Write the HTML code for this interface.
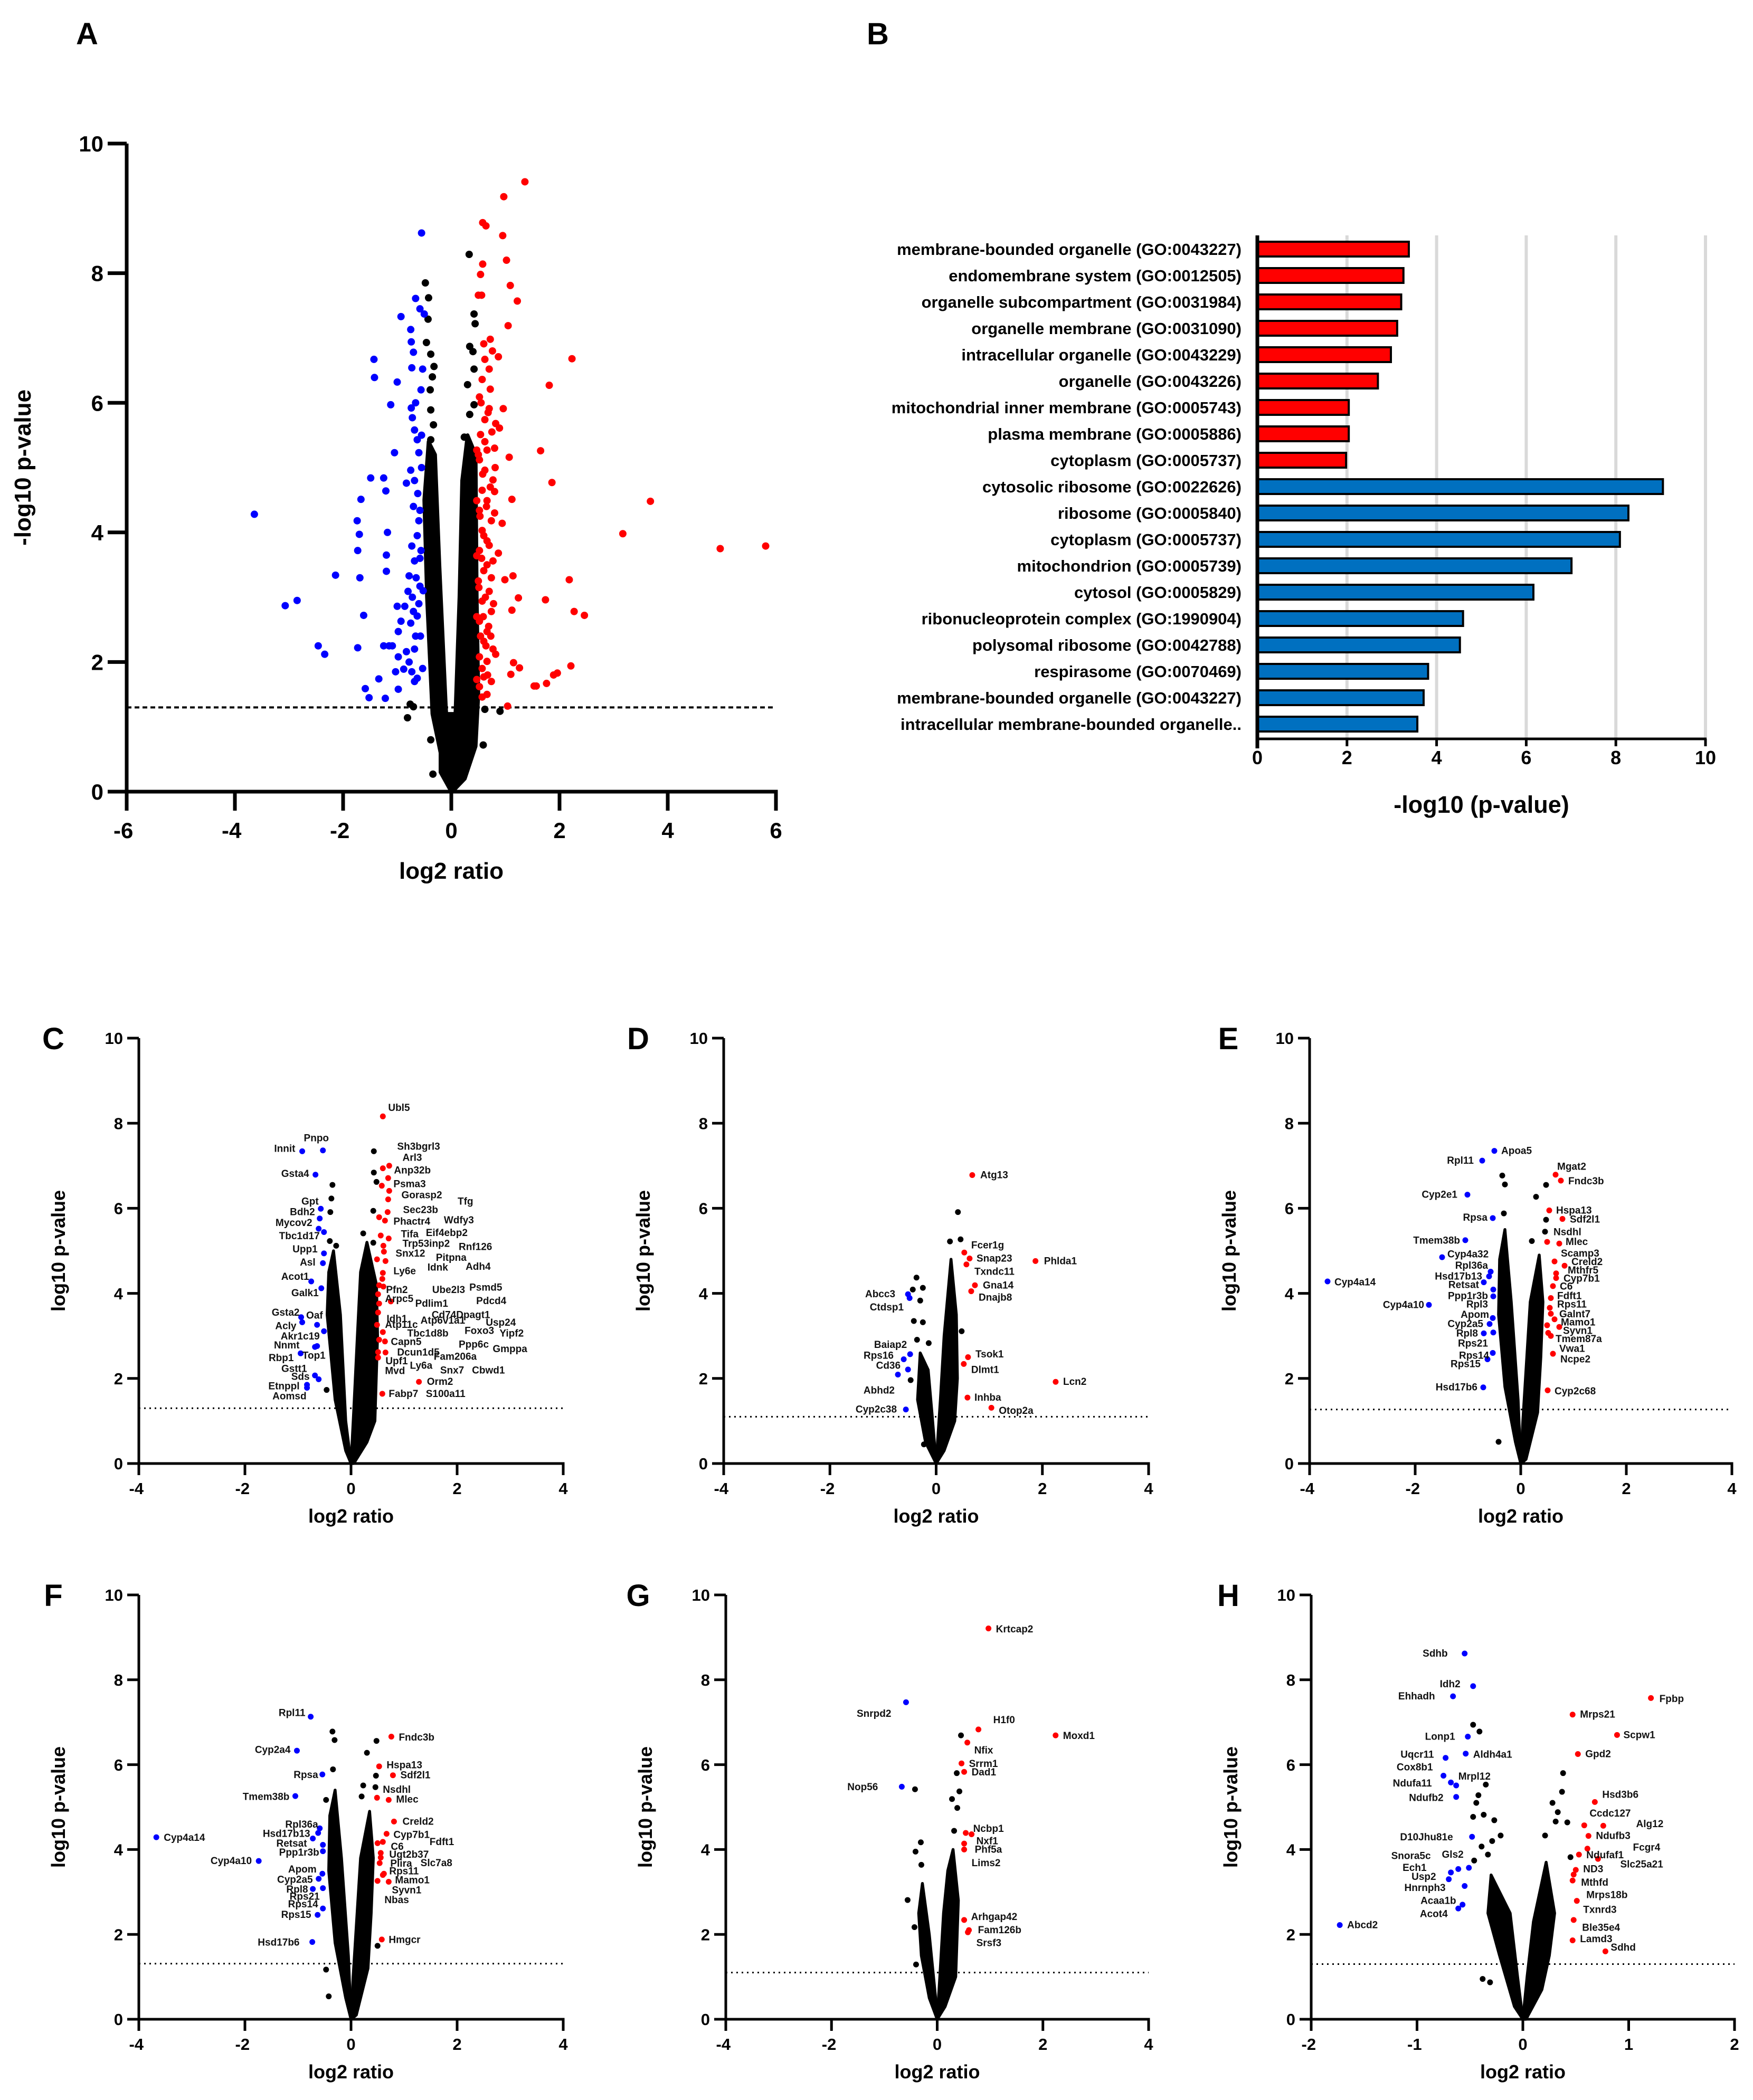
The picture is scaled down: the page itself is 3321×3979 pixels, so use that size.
<!DOCTYPE html>
<html><head><meta charset="utf-8"><style>
html,body{margin:0;padding:0;background:#fff;}
svg{display:block;font-family:"Liberation Sans",Arial,sans-serif;font-weight:bold;}
</style></head><body>
<svg id="fig" xmlns="http://www.w3.org/2000/svg" width="3321" height="3979" viewBox="0 0 3321 3979">
<rect width="3321" height="3979" fill="#fff"/>
</svg>
<script>
// ---------- Panel A data ----------
const aBlueX=[-0.55,-3.64,-3.07,-2.85,-2.46,-2.34,-2.14,-1.73,-1.69,-1.62,-1.59,-1.52,-1.73,-1.70,-1.74,-1.67,-1.49,-1.25,-1.21,-1.43,-1.42,-1.34,-1.22,-1.20,-1.20,-1.18,-1.12,-1.05,-1.0,-0.93,-0.83,-0.73,-0.75,-0.74,-0.70,-0.66,-0.72,-0.74,-0.98,-1.0,-1.09,-1.15,-0.98,-0.93,-0.86,-0.80,-0.78,-0.68,-0.73,-0.63,-0.58,-0.60,-0.68,-0.63,-0.60,-0.56,-0.53,-0.58,-0.50,-0.78,-0.73,-0.68,-0.83,-0.63,-0.66,-0.58,-0.56,-0.75,-0.68,-0.70,-0.88,-1.03,-0.98,-1.25,-0.55,-0.62,-0.70,-0.58,-0.65,-0.52,-0.60,-0.75,-0.57,-0.68,-0.53,-0.63,-0.72,-0.55,-0.66];
const aBlueY=[8.62,4.28,2.87,2.95,2.25,2.12,3.34,2.22,3.30,2.72,1.59,1.45,3.72,3.97,4.18,4.51,4.84,4.84,4.64,6.67,6.39,1.74,1.44,3.65,3.40,4.0,5.97,5.23,6.32,7.33,4.76,6.54,7.13,6.94,6.78,7.61,5.77,5.92,1.58,2.86,2.25,2.25,2.47,2.63,2.86,3.09,3.33,3.56,3.79,3.95,4.34,4.18,5.58,5.43,5.23,6.2,6.52,7.45,7.37,2.0,1.85,1.70,2.16,2.71,2.40,3.17,3.72,4.96,4.80,2.78,1.89,1.85,2.08,2.25,5.0,4.6,4.4,3.6,3.3,3.1,2.9,2.6,2.4,2.2,1.9,1.75,3.0,5.5,6.0];
const aRedX=[1.36,0.97,0.58,0.64,0.95,1.02,0.58,0.54,1.09,0.50,0.56,1.22,1.05,2.23,1.81,1.65,1.86,3.68,3.17,4.97,5.81,2.18,2.27,2.46,1.74,2.21,1.96,1.89,1.76,1.57,1.53,1.26,1.15,1.10,1.04,1.24,1.12,1.14,0.99,1.07,1.12,0.94,0.80,0.81,0.80,0.89,0.82,0.70,0.96,0.87,0.72,0.60,0.76,0.62,0.70,0.57,0.72,0.52,0.62,0.54,0.66,0.52,0.62,0.77,0.57,0.66,0.52,0.74,0.57,0.66,0.52,0.87,0.77,0.60,0.50,0.70,0.57,0.74,0.52,0.66,0.60,0.77,0.52,0.66,0.82,0.60,0.74,0.52,0.66,0.57,0.47,0.47,0.47,0.47,0.47,0.55,0.68,0.75,0.62,0.50,0.58,0.72,0.65,0.53,0.80,0.60,0.70,0.56,0.66,0.74,0.51,0.63,0.78,0.59,0.69,0.54,0.64,0.73,0.57,0.67];
const aRedY=[9.41,9.18,8.78,8.73,8.58,8.20,8.14,7.98,7.81,7.66,7.66,7.57,7.19,6.68,6.27,5.26,4.77,4.48,3.98,3.75,3.79,3.27,2.78,2.72,2.96,1.94,1.83,1.80,1.67,1.63,1.63,1.91,1.99,1.81,1.32,2.99,2.80,3.33,3.27,5.16,4.51,4.14,4.63,5.0,5.30,5.61,5.68,5.91,5.91,6.71,6.98,6.91,6.80,6.67,6.52,6.36,6.21,6.09,5.74,5.51,5.27,5.12,4.96,4.81,4.65,4.49,4.34,4.18,4.03,3.87,3.72,3.68,3.56,3.41,3.25,3.09,2.94,2.78,2.63,2.47,2.32,2.20,2.08,2.01,2.12,1.77,1.70,1.62,1.50,1.46,1.73,2.70,3.64,4.49,5.27,6.0,5.85,5.55,5.4,5.2,4.9,4.7,4.4,4.25,4.3,3.95,3.8,3.6,3.5,3.3,3.15,3.0,2.9,2.7,2.55,2.4,2.25,2.4,1.9,1.8];
const aBlackX=[0.33,-0.48,-0.42,-0.43,0.42,0.44,-0.46,0.34,0.40,-0.38,-0.32,-0.35,0.30,0.42,-0.39,0.42,-0.38,-0.33,0.34,-0.38,0.24,-0.81,-0.76,-0.70,0.90,0.62,-0.38,0.59,-0.34];
const aBlackY=[8.29,7.85,7.62,7.29,7.37,7.22,6.93,6.87,6.79,6.75,6.56,6.40,6.28,6.52,6.20,5.97,5.89,5.66,5.82,5.43,5.47,1.14,1.35,1.31,1.24,1.27,0.80,0.72,0.27];
const aCloudLX=[-0.42,-0.3,-0.22,-0.1,0,-0.15,-0.35,-0.45,-0.5];
const aCloudLY=[5.4,5.2,3.5,1.3,0,0.4,1.2,3.0,4.5];
const aCloudRX=[0.3,0.45,0.47,0.5,0.45,0.25,0.02,0.08,0.15,0.2];
const aCloudRY=[5.5,5.2,3.0,1.5,0.7,0.2,0,1.3,3.0,4.8];
const aCloudMX=[-0.2,0.3,0.2,0,-0.2];
const aCloudMY=[1.2,1.2,0.3,0,0.3];

// ---------- Panel B data ----------
const bTerms=["membrane-bounded organelle (GO:0043227)","endomembrane system (GO:0012505)","organelle subcompartment (GO:0031984)","organelle membrane (GO:0031090)","intracellular organelle (GO:0043229)","organelle (GO:0043226)","mitochondrial inner membrane (GO:0005743)","plasma membrane (GO:0005886)","cytoplasm (GO:0005737)","cytosolic ribosome (GO:0022626)","ribosome (GO:0005840)","cytoplasm (GO:0005737)","mitochondrion (GO:0005739)","cytosol (GO:0005829)","ribonucleoprotein complex (GO:1990904)","polysomal ribosome (GO:0042788)","respirasome (GO:0070469)","membrane-bounded organelle (GO:0043227)","intracellular membrane-bounded organelle.."];
const bValues=[3.38,3.26,3.21,3.12,2.98,2.69,2.04,2.04,1.98,9.05,8.28,8.09,7.01,6.16,4.59,4.52,3.81,3.71,3.57];
const bGroup=["up","up","up","up","up","up","up","up","up","down","down","down","down","down","down","down","down","down","down"];
const bTicks=[0,2,4,6,8,10];

// ---------- Panel C ----------
const cRedX=[0.60,0.60,0.72,0.70,0.58,0.72,0.70,0.69,0.53,0.64,0.56,0.71,0.61,0.62,0.49,0.65,0.60,0.59,0.53,0.61,0.51,0.75,0.53,0.51,0.49,0.60,0.53,0.64,0.51,0.65,0.51,1.28,0.59];
const cRedY=[8.16,6.94,7.0,6.71,6.53,6.41,6.21,5.91,5.79,5.71,5.36,5.29,5.12,4.98,4.8,4.76,4.48,4.34,4.19,4.16,3.98,3.81,3.76,3.55,3.26,3.09,2.91,2.87,2.62,2.61,2.49,1.92,1.64];
const cBlueX=[-0.92,-0.53,-0.67,-0.57,-0.59,-0.61,-0.51,-0.51,-0.53,-0.75,-0.56,-0.94,-0.64,-0.92,-0.51,-0.68,-0.64,-0.95,-0.68,-0.61,-0.83,-0.83];
const cBlueY=[7.34,7.36,6.79,5.99,5.76,5.52,5.44,4.94,4.71,4.28,4.12,3.44,3.26,3.32,3.11,2.74,2.76,2.59,2.07,1.98,1.85,1.78];
const cBlackX=[0.43,0.43,0.48,-0.35,-0.37,-0.39,0.42,0.23,-0.40,-0.28,0.42,-0.46];
const cBlackY=[7.34,6.84,6.62,6.55,6.23,5.91,5.94,5.41,5.23,5.12,5.19,1.73];
const cCloudLX=[-0.33,-0.2,-0.1,0,-0.1,-0.3,-0.45,-0.42];
const cCloudLY=[5.0,3.5,1.0,0,0.3,1.5,3.5,4.5];
const cCloudRX=[0.3,0.48,0.5,0.45,0.3,0.05,0,0.05,0.12,0.18];
const cCloudRY=[5.2,4.2,3.0,1.0,0.5,0,0,1.2,3.0,4.5];
const cLabText=["Ubl5","Sh3bgrl3","Arl3","Anp32b","Psma3","Gorasp2","Tfg","Sec23b","Wdfy3","Phactr4","Tifa","Eif4ebp2","Trp53inp2","Rnf126","Snx12","Pitpna","Idnk","Adh4","Ly6e","Psmd5","Ube2l3","Pfn2","Arpc5","Pdcd4","Pdlim1","Cd74Dpagt1","Idh1","Usp24","Atp6v1a1","Atp11c","Tbc1d8b","Foxo3","Yipf2","Capn5","Ppp6c","Gmppa","Dcun1d5","Fam206a","Upf1","Mvd","Ly6a","Snx7","Cbwd1","Orm2","Fabp7","S100a11",
"Innit","Pnpo","Gsta4","Gpt","Bdh2","Mycov2","Tbc1d17","Upp1","Asl","Acot1","Galk1","Gsta2","Oaf","Acly","Akr1c19","Nnmt","Top1","Rbp1","Gstt1","Sds","Etnppl","Aomsd"];
const cLabX=[0.7,0.87,0.97,0.81,0.80,0.95,2.01,0.98,1.75,0.80,0.94,1.41,0.97,2.03,0.84,1.60,1.44,2.16,0.80,2.23,1.53,0.66,0.64,2.36,1.21,1.52,0.67,2.54,1.31,0.64,1.06,2.14,2.80,0.75,2.03,2.67,0.87,1.56,0.65,0.64,1.11,1.68,2.28,1.43,0.71,1.41,
-1.05,-0.89,-0.79,-0.61,-0.68,-0.73,-0.59,-0.63,-0.67,-0.79,-0.61,-0.97,-0.53,-1.03,-0.59,-0.97,-0.48,-1.08,-0.83,-0.78,-0.97,-0.84];
const cLabY=[8.36,7.45,7.19,6.89,6.57,6.31,6.16,5.96,5.72,5.69,5.39,5.42,5.17,5.09,4.94,4.84,4.61,4.63,4.52,4.14,4.08,4.08,3.87,3.82,3.76,3.49,3.40,3.31,3.36,3.26,3.06,3.12,3.06,2.86,2.80,2.69,2.61,2.51,2.41,2.18,2.30,2.19,2.19,1.92,1.64,1.64,
7.4,7.65,6.81,6.16,5.91,5.66,5.35,5.04,4.73,4.39,4.01,3.55,3.48,3.23,2.99,2.78,2.54,2.48,2.23,2.04,1.82,1.58];
const cLabSide=["R","R","R","R","R","R","R","R","R","R","R","R","R","R","R","R","R","R","R","R","R","R","R","R","R","R","R","R","R","R","R","R","R","R","R","R","R","R","R","R","R","R","R","R","R","R",
"L","R","L","L","L","L","L","L","L","L","L","L","L","L","L","L","L","L","L","L","L","L"];

// ---------- Panel D ----------
const dRedX=[0.68,0.53,0.63,0.57,1.87,0.73,0.66,0.60,0.52,2.25,0.59,1.04];
const dRedY=[6.78,4.96,4.82,4.68,4.76,4.19,4.05,2.50,2.34,1.92,1.55,1.31];
const dBlueX=[-0.53,-0.50,-0.49,-0.61,-0.53,-0.72,-0.57];
const dBlueY=[3.98,3.89,2.57,2.45,2.21,2.09,1.27];
const dBlackX=[0.41,0.26,0.46,-0.37,-0.44,-0.25,-0.30,-0.42,-0.25,-0.36,-0.14,0.48,-0.48,-0.23];
const dBlackY=[5.91,5.22,5.27,4.37,4.09,4.13,3.83,3.35,3.32,2.91,2.83,3.11,1.96,0.45];
const dCloudLX=[-0.3,-0.15,-0.08,0,-0.2,-0.35];
const dCloudLY=[2.6,2.2,1.2,0,0.5,1.5];
const dCloudRX=[0.28,0.38,0.4,0.35,0.15,0,0.08,0.15];
const dCloudRY=[4.8,3.5,2.0,1.0,0.3,0,1.5,3.0];
const dLabText=["Atg13","Fcer1g","Snap23","Txndc11","Phlda1","Gna14","Dnajb8","Tsok1","Dlmt1","Lcn2","Inhba","Otop2a","Abcc3","Ctdsp1","Baiap2","Rps16","Cd36","Abhd2","Cyp2c38"];
const dLabX=[0.83,0.66,0.76,0.72,2.03,0.88,0.80,0.74,0.66,2.39,0.72,1.18,-0.77,-0.61,-0.55,-0.80,-0.67,-0.78,-0.74];
const dLabY=[6.78,5.13,4.82,4.51,4.76,4.19,3.90,2.57,2.20,1.92,1.55,1.24,3.98,3.67,2.79,2.54,2.30,1.72,1.27];
const dLabSide=["R","R","R","R","R","R","R","R","R","R","R","R","L","L","L","L","L","L","L"];

// ---------- Panel E ----------
const eRedX=[0.66,0.76,0.54,0.79,0.50,0.73,0.64,0.83,0.67,0.67,0.61,0.57,0.55,0.57,0.64,0.50,0.73,0.52,0.57,0.61,0.51];
const eRedY=[6.79,6.65,5.95,5.75,5.21,5.17,4.75,4.65,4.47,4.36,4.17,3.89,3.66,3.52,3.39,3.25,3.21,3.07,3.0,2.58,1.72];
const eBlueX=[-0.50,-0.73,-1.01,-0.53,-1.05,-1.49,-0.57,-0.60,-0.70,-0.52,-0.52,-3.66,-1.74,-0.53,-0.59,-0.70,-0.52,-0.53,-0.63,-0.71];
const eBlueY=[7.35,7.12,6.32,5.77,5.25,4.85,4.51,4.40,4.26,4.09,3.93,4.28,3.73,3.42,3.28,3.06,3.08,2.60,2.45,1.79];
const eBlackX=[-0.35,-0.30,0.48,0.29,-0.32,0.48,0.46,0.21,-0.42];
const eBlackY=[6.77,6.56,6.55,6.27,5.88,5.73,5.45,5.23,0.51];
const eCloudLX=[-0.3,-0.18,-0.05,0,-0.1,-0.3,-0.42,-0.4];
const eCloudLY=[5.5,3.8,1.5,0,0.5,1.8,3.5,4.8];
const eCloudRX=[0.35,0.42,0.38,0.32,0.1,0,0.04,0.1,0.18];
const eCloudRY=[4.9,3.8,2.5,1.2,0.1,0,1.0,2.2,3.8];
const eLabText=["Mgat2","Fndc3b","Hspa13","Sdf2l1","Nsdhl","Mlec","Scamp3","Creld2","Mthfr5","Cyp7b1","C6","Fdft1","Rps11","Galnt7","Mamo1","Syvn1","Tmem87a","Vwa1","Ncpe2","Cyp2c68",
"Apoa5","Rpl11","Cyp2e1","Rpsa","Tmem38b","Cyp4a32","Rpl36a","Hsd17b13","Retsat","Ppp1r3b","Cyp4a14","Cyp4a10","Rpl3","Apom","Cyp2a5","Rpl8","Rps21","Rps14","Rps15","Hsd17b6"];
const eLabX=[0.69,0.90,0.67,0.93,0.62,0.85,0.76,0.96,0.89,0.81,0.74,0.69,0.69,0.73,0.76,0.80,0.66,0.73,0.75,0.64,
-0.37,-0.89,-1.20,-0.63,-1.15,-1.39,-0.62,-0.73,-0.79,-0.62,-3.53,-1.83,-0.62,-0.60,-0.71,-0.81,-0.62,-0.60,-0.76,-0.82];
const eLabY=[6.98,6.64,5.95,5.74,5.44,5.21,4.94,4.74,4.54,4.35,4.16,3.94,3.74,3.51,3.32,3.12,2.93,2.70,2.45,1.70,
7.35,7.12,6.32,5.78,5.24,4.92,4.65,4.40,4.20,3.94,4.26,3.73,3.74,3.50,3.28,3.06,2.82,2.54,2.34,1.79];
const eLabSide=["R","R","R","R","R","R","R","R","R","R","R","R","R","R","R","R","R","R","R","R",
"R","L","L","L","L","R","L","L","L","L","R","L","L","L","L","L","L","L","L","L"];

// ---------- Panel F ----------
const fRedX=[0.76,0.53,0.79,0.49,0.71,0.81,0.67,0.50,0.60,0.56,0.56,0.54,0.62,0.60,0.50,0.71,0.58];
const fRedY=[6.66,5.96,5.75,5.22,5.17,4.66,4.37,4.15,4.18,3.92,3.81,3.68,3.43,3.40,3.26,3.24,1.88];
const fBlueX=[-0.76,-1.02,-0.54,-1.05,-3.67,-0.59,-0.62,-0.72,-0.53,-0.53,-1.74,-0.54,-0.61,-0.72,-0.53,-0.53,-0.63,-0.73];
const fBlueY=[7.13,6.33,5.77,5.26,4.29,4.5,4.39,4.26,4.11,3.96,3.73,3.43,3.31,3.07,3.09,2.61,2.46,1.82];
const fBlackX=[-0.35,-0.31,0.48,0.30,-0.34,0.47,0.46,0.23,0.20,-0.47,-0.42,-0.47,0.50];
const fBlackY=[6.78,6.58,6.56,6.28,5.89,5.74,5.47,5.51,5.25,5.17,0.54,1.17,1.73];
const fCloudLX=[-0.3,-0.18,-0.05,0,-0.1,-0.3,-0.42,-0.4];
const fCloudLY=[5.4,3.8,1.5,0,0.5,1.8,3.5,4.8];
const fCloudRX=[0.35,0.42,0.38,0.32,0.1,0,0.04,0.1,0.18];
const fCloudRY=[4.9,3.8,2.5,1.2,0.1,0,1.0,2.2,3.8];
const fLabText=["Fndc3b","Hspa13","Sdf2l1","Nsdhl","Mlec","Creld2","Cyp7b1","Fdft1","C6","Ugt2b37","Plira","Slc7a8","Rps11","Mamo1","Syvn1","Nbas","Hmgcr",
"Rpl11","Cyp2a4","Rpsa","Tmem38b","Cyp4a14","Rpl36a","Hsd17b13","Retsat","Ppp1r3b","Cyp4a10","Apom","Cyp2a5","Rpl8","Rps21","Rps14","Rps15","Hsd17b6"];
const fLabX=[0.90,0.67,0.93,0.60,0.85,0.97,0.80,1.48,0.75,0.72,0.74,1.31,0.72,0.83,0.77,0.63,0.71,
-0.86,-1.14,-0.62,-1.16,-3.53,-0.62,-0.77,-0.83,-0.60,-1.87,-0.65,-0.72,-0.81,-0.59,-0.62,-0.75,-0.97];
const fLabY=[6.64,5.99,5.75,5.41,5.18,4.66,4.35,4.18,4.07,3.88,3.67,3.68,3.49,3.28,3.04,2.81,1.87,
7.22,6.35,5.76,5.24,4.28,4.59,4.37,4.14,3.93,3.73,3.53,3.29,3.06,2.89,2.71,2.46,1.81];
const fLabSide=["R","R","R","R","R","R","R","R","R","R","R","R","R","R","R","R","R",
"L","L","L","L","R","L","L","L","L","L","L","L","L","L","L","L","L"];

// ---------- Panel G ----------
const gRedX=[0.97,0.78,2.24,0.57,0.46,0.51,0.54,0.65,0.51,0.51,0.51,0.60,0.58];
const gRedY=[9.21,6.83,6.69,6.52,6.03,5.83,4.39,4.36,4.14,4.0,2.34,2.10,2.05];
const gBlueX=[-0.59,-0.67];
const gBlueY=[7.47,5.48];
const gBlackX=[0.45,0.37,-0.42,0.42,0.28,0.38,-0.31,-0.41,-0.30,-0.56,-0.43,-0.40,0.32];
const gBlackY=[6.69,5.80,5.42,5.37,5.19,4.98,4.17,3.95,3.64,2.81,2.17,1.29,4.44];
const gCloudLX=[-0.28,-0.15,-0.03,0,-0.15,-0.3,-0.35];
const gCloudLY=[3.2,2.0,0.5,0,0.5,1.5,2.5];
const gCloudRX=[0.3,0.4,0.35,0.15,0,0.05,0.12,0.2];
const gCloudRY=[4.0,2.8,1.0,0.3,0,1.0,2.5,3.5];
const gLabText=["Krtcap2","H1f0","Moxd1","Nfix","Srrm1","Dad1","Ncbp1","Nxf1","Phf5a","Lims2","Arhgap42","Fam126b","Srsf3","Snrpd2","Nop56"];
const gLabX=[1.11,1.06,2.38,0.70,0.60,0.65,0.68,0.74,0.71,0.65,0.64,0.77,0.74,-0.87,-1.12];
const gLabY=[9.19,7.05,6.68,6.34,6.02,5.82,4.49,4.20,4.0,3.68,2.41,2.10,1.80,7.2,5.47];
const gLabSide=["R","R","R","R","R","R","R","R","R","R","R","R","R","L","L"];

// ---------- Panel H ----------
const hRedX=[1.21,0.47,0.89,0.52,0.68,0.58,0.76,0.62,0.61,0.53,0.71,0.50,0.48,0.47,0.51,0.48,0.47,0.78];
const hRedY=[7.57,7.18,6.70,6.25,5.12,4.57,4.56,4.32,4.02,3.88,3.78,3.52,3.41,3.27,2.79,2.34,1.86,1.60];
const hBlueX=[-0.55,-0.47,-0.66,-0.52,-0.54,-0.73,-0.75,-0.68,-0.63,-0.63,-0.48,-0.51,-0.61,-0.68,-0.70,-0.55,-0.57,-0.61,-1.73];
const hBlueY=[8.62,7.85,7.61,6.66,6.26,6.16,5.74,5.58,5.51,5.24,4.30,3.57,3.54,3.46,3.30,3.14,2.70,2.61,2.22];
const hBlackX=[-0.47,-0.41,0.38,0.37,-0.35,-0.42,0.28,-0.44,0.33,-0.47,-0.37,-0.27,0.31,0.42,0.21,-0.29,-0.21,-0.39,-0.33,-0.46,0.45,-0.38,-0.31];
const hBlackY=[6.94,6.78,5.80,5.36,5.53,5.28,5.10,5.10,4.88,4.77,4.82,4.69,4.66,4.64,4.33,4.20,4.33,4.07,3.88,3.74,3.82,0.95,0.87];
const hCloudLX=[-0.3,-0.12,-0.05,0,-0.08,-0.22,-0.33];
const hCloudLY=[3.4,2.5,1.0,0,0.3,1.5,2.5];
const hCloudRX=[0.22,0.3,0.25,0.18,0.03,0,0.04,0.1];
const hCloudRY=[3.7,2.5,1.5,0.7,0,0,1.0,2.3];
const hLabText=["Fpbp","Mrps21","Scpw1","Gpd2","Hsd3b6","Ccdc127","Alg12","Ndufb3","Fcgr4","Ndufaf1","Slc25a21","ND3","Mthfd","Mrps18b","Txnrd3","Ble35e4","Lamd3","Sdhd",
"Sdhb","Idh2","Ehhadh","Lonp1","Aldh4a1","Uqcr11","Cox8b1","Mrpl12","Ndufa11","Ndufb2","D10Jhu81e","Gls2","Snora5c","Ech1","Usp2","Hnrnph3","Acaa1b","Acot4","Abcd2"];
const hLabX=[1.29,0.54,0.95,0.59,0.75,0.63,1.07,0.69,1.04,0.60,0.92,0.57,0.55,0.60,0.57,0.56,0.54,0.83,
-0.71,-0.59,-0.83,-0.64,-0.47,-0.84,-0.85,-0.61,-0.86,-0.75,-0.66,-0.56,-0.87,-0.91,-0.82,-0.73,-0.63,-0.71,-1.66];
const hLabY=[7.55,7.18,6.70,6.25,5.29,4.85,4.60,4.32,4.05,3.87,3.65,3.54,3.22,2.93,2.58,2.16,1.89,1.69,
8.62,7.90,7.61,6.66,6.24,6.24,5.94,5.72,5.56,5.22,4.29,3.88,3.85,3.57,3.36,3.10,2.79,2.48,2.22];
const hLabSide=["R","R","R","R","R","R","R","R","R","R","R","R","R","R","R","R","R","R",
"L","L","L","L","R","L","L","R","L","L","L","L","L","L","L","L","L","L","R"];

const xTicks4=[-4,-2,0,2,4];
const xTicks2=[-2,-1,0,1,2];
const yTicks=[0,2,4,6,8,10];
const xTicks6=[-6,-4,-2,0,2,4,6];

// ---------- drawing ----------
const svg=document.getElementById('fig');
const NS="http://www.w3.org/2000/svg";
function mk(tag,attrs,parent){const e=document.createElementNS(NS,tag);for(const k in attrs)e.setAttribute(k,attrs[k]);(parent||svg).appendChild(e);return e;}
function txt(s,attrs,parent){const e=mk('text',attrs,parent);e.textContent=s;return e;}

function panelLetter(s,x,y){
  const t=txt(s,{x:x,y:y,'font-size':58,'text-anchor':'middle'});
  
  
}

function volcano(cfg){
  const g=mk('g',{});
  
  
  const xs=v=>cfg.x0+(v-cfg.xmin)/(cfg.xmax-cfg.xmin)*(cfg.x1-cfg.x0);
  const ys=v=>cfg.yb-(v-0)/(10-0)*(cfg.yb-cfg.yt);
  [[cfg.clx,cfg.cly],[cfg.crx,cfg.cry],[cfg.cmx||[],cfg.cmy||[]]].forEach(c=>{
    if(!c[0].length)return;
    const pts=c[0].map((v,k)=>xs(v)+','+ys(c[1][k])).join(' ');
    const p=mk('polygon',{points:pts,fill:'#000',stroke:'#000','stroke-width':cfg.r,'stroke-linejoin':'round'},g);
    
    
  });
  const th=mk('line',{x1:cfg.x0,x2:cfg.x1,y1:ys(cfg.thr),y2:ys(cfg.thr),stroke:'#000','stroke-width':cfg.big?4:3,'stroke-dasharray':cfg.big?'9 6':'3 7'},g);
  
  
  function dots(X,Y,col,name){
    X.forEach((v,i)=>{
      const c=mk('circle',{cx:xs(v),cy:ys(Y[i]),r:cfg.r,fill:col},g);
      
      
    });
  }
  dots(cfg.kx,cfg.ky,'#000','nonsignificant-point');
  dots(cfg.bx,cfg.by,'#0000ff','downregulated-point');
  dots(cfg.rx,cfg.ry,'#ff0000','upregulated-point');
  if(cfg.lt){
    cfg.lt.forEach((s,i)=>{
      const t=txt(s,{x:xs(cfg.lx[i]),y:ys(cfg.ly[i])+6,'font-size':19,'text-anchor':cfg.ls[i]==='L'?'end':'start',fill:'#111'},g);
      
      
    });
  }
  const lw=cfg.big?7:5, tl=cfg.big?36:22;
  const ya=mk('line',{x1:cfg.x0,x2:cfg.x0,y1:cfg.yt,y2:cfg.yb+tl,stroke:'#000','stroke-width':lw},g);
  
  
  const xa=mk('line',{x1:cfg.x0-tl,x2:cfg.x1+lw/2,y1:cfg.yb,y2:cfg.yb,stroke:'#000','stroke-width':lw},g);
  
  
  const fs=cfg.big?42:31;
  cfg.xt.forEach(v=>{
    const l=mk('line',{x1:xs(v),x2:xs(v),y1:cfg.yb,y2:cfg.yb+tl,stroke:'#000','stroke-width':lw},g);
    
    
    const t=txt(String(v),{x:xs(v)-(v<0?fs*0.15:0),y:cfg.yb+tl+(cfg.big?52:36),'font-size':fs,'text-anchor':'middle'},g);
    
    
  });
  yTicks.forEach(v=>{
    const l=mk('line',{x1:cfg.x0-tl,x2:cfg.x0,y1:ys(v),y2:ys(v),stroke:'#000','stroke-width':lw},g);
    
    
    const t=txt(String(v),{x:cfg.x0-tl-8,y:ys(v)+fs*0.36,'font-size':fs,'text-anchor':'end'},g);
    
    
  });
  const xt=txt('log2 ratio',{x:(cfg.x0+cfg.x1)/2,y:cfg.yb+(cfg.big?165:112),'font-size':cfg.big?44:36,'text-anchor':'middle'},g);
  
  
  const yx=cfg.x0-(cfg.big?182:140), ym=(cfg.yt+cfg.yb)/2;
  const yt=txt(cfg.big?'-log10 p-value':'log10 p-value',{x:yx,y:ym,'font-size':cfg.big?44:36,'text-anchor':'middle',transform:'rotate(-90 '+yx+' '+ym+')'},g);
  
  
}

volcano({id:'a',big:true,x0:240,x1:1470,yt:272,yb:1500,xmin:-6,xmax:6,r:7,thr:1.3,xt:xTicks6,
  clx:aCloudLX,cly:aCloudLY,crx:aCloudRX,cry:aCloudRY,cmx:aCloudMX,cmy:aCloudMY,
  kx:aBlackX,ky:aBlackY,bx:aBlueX,by:aBlueY,rx:aRedX,ry:aRedY});

(function(){
  const g=mk('g',{});
  
  
  const x0=2382,x1=3231,top=446,axisY=1400,first=472,step=50,bh=28;
  const xs=v=>x0+v/10*(x1-x0);
  bTicks.forEach(v=>{
    if(v===0)return;
    const l=mk('line',{x1:xs(v),x2:xs(v),y1:top,y2:axisY,stroke:'#d9d9d9','stroke-width':6},g);
    
    
  });
  bValues.forEach((v,i)=>{
    const cy=first+i*step;
    const r=mk('rect',{x:x0,y:cy-bh/2,width:xs(v)-x0,height:bh,fill:bGroup[i]==='up'?'#ff0000':'#0070c0',stroke:'#000','stroke-width':4},g);
    
    
    const t=txt(bTerms[i],{x:2352,y:cy+11,'font-size':31,'text-anchor':'end'},g);
    
    
  });
  const ya=mk('line',{x1:x0,x2:x0,y1:top,y2:axisY+18,stroke:'#000','stroke-width':7},g);
  
  
  const xa=mk('line',{x1:x0,x2:x1+2,y1:axisY,y2:axisY,stroke:'#000','stroke-width':5},g);
  
  
  bTicks.forEach(v=>{
    const l=mk('line',{x1:xs(v),x2:xs(v),y1:axisY,y2:axisY+14,stroke:'#000','stroke-width':5},g);
    
    
    const t=txt(String(v),{x:xs(v),y:axisY+48,'font-size':36,'text-anchor':'middle'},g);
    
    
  });
  const tt=txt('-log10 (p-value)',{x:(x0+x1)/2,y:1540,'font-size':45,'text-anchor':'middle'},g);
  
  
})();

volcano({id:'c',x0:263,x1:1067,yt:1967,yb:2773,xmin:-4,xmax:4,r:5.5,thr:1.3,xt:xTicks4,
  clx:cCloudLX,cly:cCloudLY,crx:cCloudRX,cry:cCloudRY,kx:cBlackX,ky:cBlackY,bx:cBlueX,by:cBlueY,rx:cRedX,ry:cRedY,
  lt:cLabText,lx:cLabX,ly:cLabY,ls:cLabSide});
volcano({id:'d',x0:1371,x1:2176,yt:1967,yb:2773,xmin:-4,xmax:4,r:5.5,thr:1.1,xt:xTicks4,
  clx:dCloudLX,cly:dCloudLY,crx:dCloudRX,cry:dCloudRY,kx:dBlackX,ky:dBlackY,bx:dBlueX,by:dBlueY,rx:dRedX,ry:dRedY,
  lt:dLabText,lx:dLabX,ly:dLabY,ls:dLabSide});
volcano({id:'e',x0:2481,x1:3281,yt:1967,yb:2773,xmin:-4,xmax:4,r:5.5,thr:1.27,xt:xTicks4,
  clx:eCloudLX,cly:eCloudLY,crx:eCloudRX,cry:eCloudRY,kx:eBlackX,ky:eBlackY,bx:eBlueX,by:eBlueY,rx:eRedX,ry:eRedY,
  lt:eLabText,lx:eLabX,ly:eLabY,ls:eLabSide});
volcano({id:'f',x0:263,x1:1067,yt:3022,yb:3826,xmin:-4,xmax:4,r:5.5,thr:1.31,xt:xTicks4,
  clx:fCloudLX,cly:fCloudLY,crx:fCloudRX,cry:fCloudRY,kx:fBlackX,ky:fBlackY,bx:fBlueX,by:fBlueY,rx:fRedX,ry:fRedY,
  lt:fLabText,lx:fLabX,ly:fLabY,ls:fLabSide});
volcano({id:'g',x0:1375,x1:2176,yt:3022,yb:3826,xmin:-4,xmax:4,r:5.5,thr:1.1,xt:xTicks4,
  clx:gCloudLX,cly:gCloudLY,crx:gCloudRX,cry:gCloudRY,kx:gBlackX,ky:gBlackY,bx:gBlueX,by:gBlueY,rx:gRedX,ry:gRedY,
  lt:gLabText,lx:gLabX,ly:gLabY,ls:gLabSide});
volcano({id:'h',x0:2484,x1:3286,yt:3022,yb:3826,xmin:-2,xmax:2,r:5.5,thr:1.3,xt:xTicks2,
  clx:hCloudLX,cly:hCloudLY,crx:hCloudRX,cry:hCloudRY,kx:hBlackX,ky:hBlackY,bx:hBlueX,by:hBlueY,rx:hRedX,ry:hRedY,
  lt:hLabText,lx:hLabX,ly:hLabY,ls:hLabSide});

panelLetter('A',165,84);
panelLetter('B',1663,84);
panelLetter('C',101,1988);
panelLetter('D',1209,1988);
panelLetter('E',2327,1988);
panelLetter('F',101,3043);
panelLetter('G',1209,3043);
panelLetter('H',2327,3043);
</script>
</body></html>
